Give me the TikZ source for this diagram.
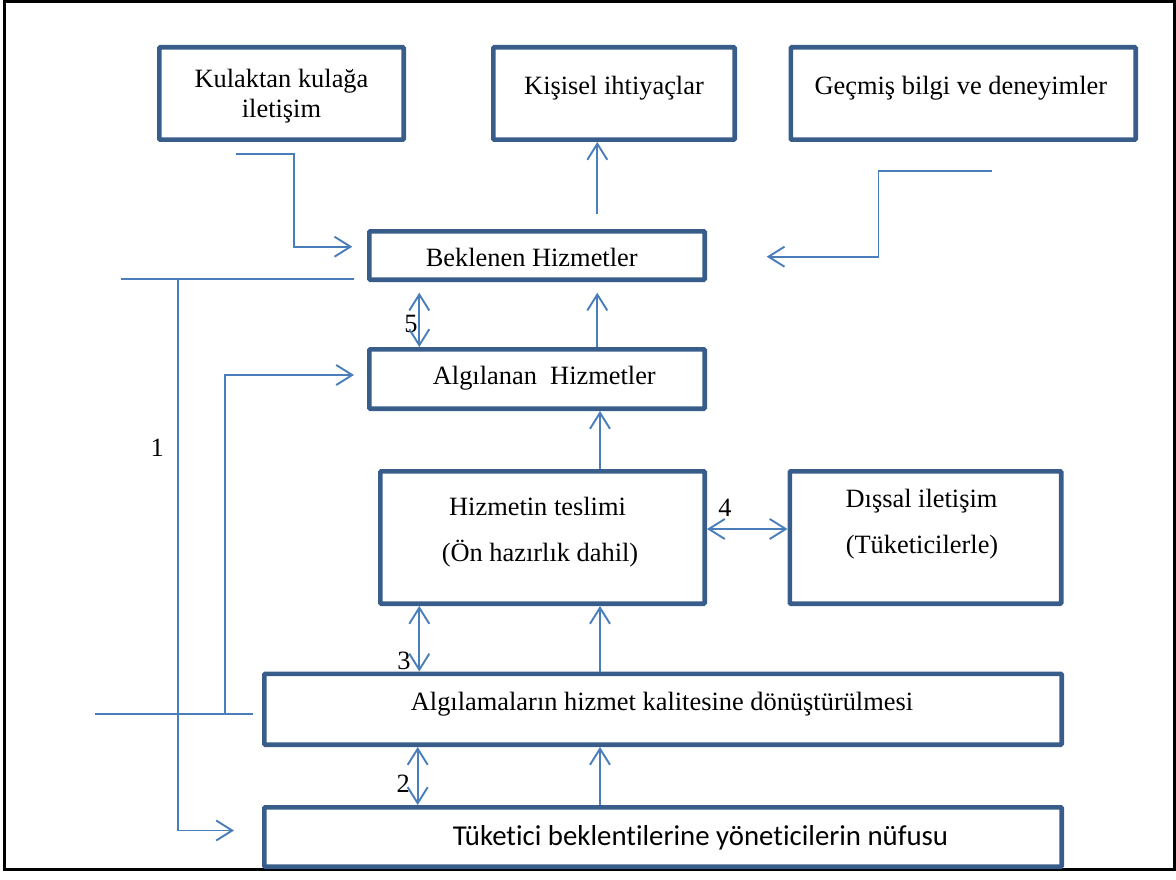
\documentclass[tikz,border=0pt]{standalone}
\usepackage{fontspec}
\setmainfont{Liberation Serif}
\newfontfamily\calibri[Ligatures=NoCommon]{Carlito}
\usetikzlibrary{arrows.meta,calc}
\definecolor{boxblue}{RGB}{56,93,138}
\definecolor{lineblue}{RGB}{74,126,187}
\begin{document}
\begin{tikzpicture}[x=1pt,y=-1pt,
  box/.style={draw=boxblue, line width=4.7pt, rounded corners=1pt, inner sep=0pt, rectangle},
  conn/.style={draw=lineblue, line width=1.9pt},
  onearr/.style={conn, -{Straight Barb[length=16pt,width=20pt]}},
  twoarr/.style={conn, {Straight Barb[length=16pt,width=20pt]}-{Straight Barb[length=16pt,width=20pt]}},
  lbl/.style={font=\fontsize{26.4}{30}\selectfont, anchor=base, inner sep=0pt},
  num/.style={font=\fontsize{26.4}{30}\selectfont, anchor=base, inner sep=0pt}]
\useasboundingbox (0,0) rectangle (1176,880);

% outer frame
\draw[line width=3.3pt] (4.3,1.3) rectangle (1174.3,869.7);

% boxes
\node[box, minimum width=244.3pt, minimum height=92.3pt] (kul) at (281.5,93.5) {};
\node[box, minimum width=241.3pt, minimum height=92.3pt] (kis) at (614,93.5) {};
\node[box, minimum width=344.8pt, minimum height=92.3pt] (gec) at (963.25,93.5) {};
\node[box, minimum width=335.3pt, minimum height=48.3pt] (bek) at (537,255.5) {};
\node[box, minimum width=335.3pt, minimum height=59.3pt] (alg) at (537,379) {};
\node[box, minimum width=324.3pt, minimum height=132.3pt] (tes) at (542.5,537.5) {};
\node[box, minimum width=271.3pt, minimum height=132.3pt] (dis) at (925.5,537.5) {};
\node[box, minimum width=797.3pt, minimum height=70.8pt] (don) at (663,709.25) {};
\node[box, minimum width=797.3pt, minimum height=59.3pt] (tuk) at (663,837) {};

% texts
\node[lbl] (tkul1) at (281.5,87.3) {Kulaktan kulağa};
\node[lbl] (tkul2) at (281.5,117.3) {iletişim};
\node[lbl] (tkis) at (614,95) {Kişisel ihtiyaçlar};
\node[lbl] (tgec) at (960.8,95) {Geçmiş bilgi ve deneyimler};
\node[lbl] (tbek) at (531.7,266.7) {Beklenen Hizmetler};
\node[lbl] (talg) at (544.3,384.3) {Algılanan~~Hizmetler};
\node[lbl] (ttes1) at (537.5,515.5) {Hizmetin teslimi};
\node[lbl] (ttes2) at (540,561.7) {(Ön hazırlık dahil)};
\node[lbl] (tdis1) at (921.5,507.3) {Dışsal iletişim};
\node[lbl] (tdis2) at (922,553.3) {(Tüketicilerle)};
\node[lbl] (tdon) at (662,710.7) {Algılamaların hizmet kalitesine dönüştürülmesi};
\node[lbl, font=\calibri\fontsize{28.8}{32}\selectfont] (ttuk) at (700.5,845) {Tüketici beklentilerine yöneticilerin nüfusu};

% gap numbers
\node[num] (n1) at (157.3,456.7) {1};
\node[num] (n2) at (403.3,792.7) {2};
\node[num] (n3) at (404,669.3) {3};
\node[num] (n4) at (725,516.7) {4};
\node[num] (n5) at (411,332.7) {5};

% inputs to expected service
\coordinate (k1) at (235.5,154.3);
\coordinate (k2) at (294.3,154.3);
\coordinate (kt) at (352.3,246.7);
\draw[onearr] (k1) -- (k2) |- (kt);
\coordinate (g1) at (991.7,171);
\coordinate (g2) at (878.5,171);
\coordinate (gt) at (766.7,256.7);
\draw[onearr] (g1) -- (g2) |- (gt);
\coordinate (bs) at (597.3,214.3);
\draw[onearr] (bs) -- (bs |- kis.south);

% expected / perceived
\coordinate (g5) at (419.3,292.7);
\draw[twoarr] (g5) -- (g5 |- alg.north);
\coordinate (ab) at (597.3,292.7);
\draw[onearr] (ab |- alg.north) -- (ab);
\draw[onearr] (tes.north -| 600,0) -- (alg.south -| 600,0);

% delivery and external communication
\draw[twoarr] (tes.east |- 0,529) -- (dis.west |- 0,529);

% specifications and management perceptions
\draw[twoarr] (tes.south -| 419.3,0) -- (don.north -| 419.3,0);
\draw[onearr] (don.north -| 600,0) -- (tes.south -| 600,0);
\draw[twoarr] (don.south -| 417.7,0) -- (tuk.north -| 417.7,0);
\draw[onearr] (tuk.north -| 600,0) -- (don.south -| 600,0);

% gap 1 line
\coordinate (h1a) at (121,278.7);
\coordinate (h1b) at (354,278.7);
\draw[conn] (h1a) -- (h1b);
\coordinate (v1) at (177.8,278.7);
\coordinate (t1) at (234,830.5);
\draw[onearr] (v1) |- (t1);

% feedback line to perceived service
\coordinate (h2a) at (95,714.3);
\coordinate (h2b) at (253,714.3);
\draw[conn] (h2a) -- (h2b);
\coordinate (v2) at (224.8,714.3);
\coordinate (t2) at (354,375);
\draw[onearr] (v2) |- (t2);
\end{tikzpicture}
\end{document}
